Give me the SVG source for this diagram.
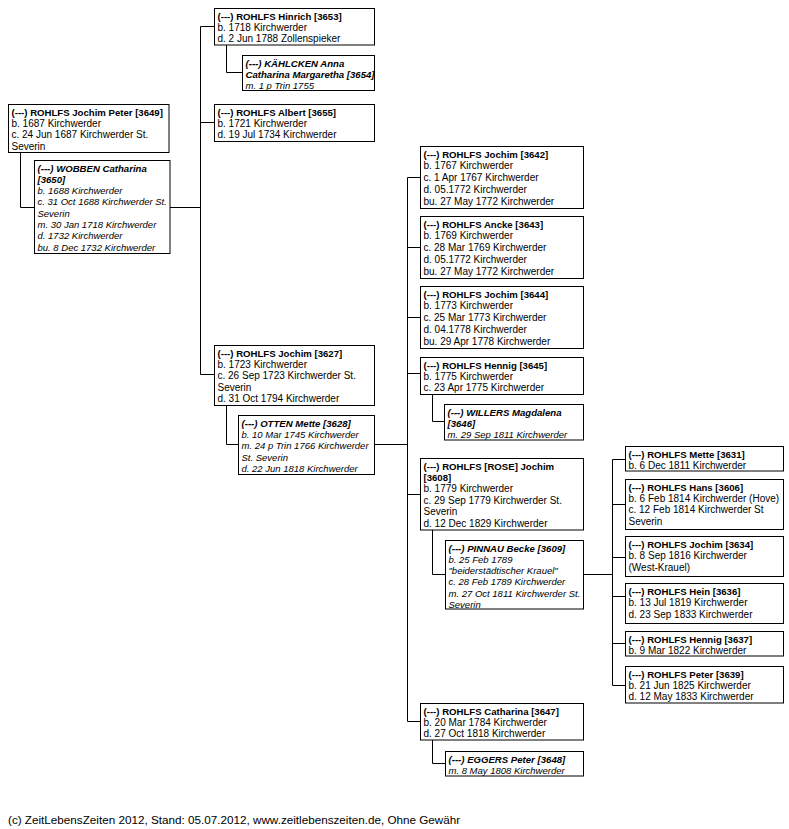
<svg xmlns="http://www.w3.org/2000/svg" width="789" height="829" viewBox="0 0 789 829">
<style>
.bx{fill:#fff;stroke:#000;stroke-width:1}
.con{fill:none;stroke:#000;stroke-width:1}
text{font-family:"Liberation Sans",Arial,sans-serif;font-size:10px;fill:#000}
.b{font-weight:bold;font-size:9.6px}
.i{font-style:italic;font-size:9.5px}
.ft{font-size:11.7px}
</style>
<rect width="789" height="829" fill="#fff"/>
<g id="connectors">
<path class="con" d="M200.5 26.5V374.5M200.5 26.5H214.5M200.5 122.5H214.5M200.5 374.5H214.5M170 207.5H200.5"/>
<path class="con" d="M20.5 152.5V207.5H34.5"/>
<path class="con" d="M226.5 45V72.5H242.5"/>
<path class="con" d="M226.5 405.5V444.5H238.5M374.5 444.5H407.5"/>
<path class="con" d="M407.5 177.5V721.5M407.5 177.5H420.5M407.5 247.5H420.5M407.5 317.5H420.5M407.5 373.5H420.5M407.5 494.5H420.5M407.5 721.5H420.5"/>
<path class="con" d="M432.5 394.5V421.5H444.5"/>
<path class="con" d="M432.5 530V574.5H445.5M583.5 574.5H612.5"/>
<path class="con" d="M432.5 740V763.5H445.5"/>
<path class="con" d="M612.5 459.5V685.5M612.5 459.5H625.5M612.5 504.5H625.5M612.5 557.5H625.5M612.5 596.5H625.5M612.5 643.5H625.5M612.5 685.5H625.5"/>
</g>
<g id="n3653"><rect class="bx" x="214.5" y="8.5" width="160" height="36.5"/>
<text x="217.5" y="19.5"><tspan class="b">(---) ROHLFS Hinrich [3653]</tspan><tspan x="217.5" dy="11.4">b. 1718 Kirchwerder</tspan><tspan x="217.5" dy="11.4">d. 2 Jun 1788 Zollenspieker</tspan></text></g>
<g id="n3654"><rect class="bx" x="242.5" y="55.5" width="132" height="35"/>
<text x="245.5" y="66.5" class="i"><tspan class="b">(---) KÄHLCKEN Anna</tspan><tspan x="245.5" dy="11.4" class="b">Catharina Margaretha [3654]</tspan><tspan x="245.5" dy="11.4">m. 1 p Trin 1755</tspan></text></g>
<g id="n3649"><rect class="bx" x="8.5" y="104.5" width="160.5" height="48"/>
<text x="11.5" y="115.5"><tspan class="b">(---) ROHLFS Jochim Peter [3649]</tspan><tspan x="11.5" dy="11.4">b. 1687 Kirchwerder</tspan><tspan x="11.5" dy="11.4">c. 24 Jun 1687 Kirchwerder St.</tspan><tspan x="11.5" dy="11.4">Severin</tspan></text></g>
<g id="n3655"><rect class="bx" x="214.5" y="104.5" width="160" height="37"/>
<text x="217.5" y="115.5"><tspan class="b">(---) ROHLFS Albert [3655]</tspan><tspan x="217.5" dy="11.4">b. 1721 Kirchwerder</tspan><tspan x="217.5" dy="11.4">d. 19 Jul 1734 Kirchwerder</tspan></text></g>
<g id="n3650"><rect class="bx" x="34.5" y="160.5" width="135.5" height="93"/>
<text x="37.5" y="171.5" class="i"><tspan class="b">(---) WOBBEN Catharina</tspan><tspan x="37.5" dy="11.3" class="b">[3650]</tspan><tspan x="37.5" dy="11.3">b. 1688 Kirchwerder</tspan><tspan x="37.5" dy="11.3">c. 31 Oct 1688 Kirchwerder St.</tspan><tspan x="37.5" dy="11.3">Severin</tspan><tspan x="37.5" dy="11.3">m. 30 Jan 1718 Kirchwerder</tspan><tspan x="37.5" dy="11.3">d. 1732 Kirchwerder</tspan><tspan x="37.5" dy="11.3">bu. 8 Dec 1732 Kirchwerder</tspan></text></g>
<g id="n3627"><rect class="bx" x="214.5" y="345.5" width="160" height="60"/>
<text x="217.5" y="356.5"><tspan class="b">(---) ROHLFS Jochim [3627]</tspan><tspan x="217.5" dy="11.4">b. 1723 Kirchwerder</tspan><tspan x="217.5" dy="11.4">c. 26 Sep 1723 Kirchwerder St.</tspan><tspan x="217.5" dy="11.4">Severin</tspan><tspan x="217.5" dy="11.4">d. 31 Oct 1794 Kirchwerder</tspan></text></g>
<g id="n3628"><rect class="bx" x="238.5" y="415.5" width="136" height="59"/>
<text x="241.5" y="426.5" class="i"><tspan class="b">(---) OTTEN Mette [3628]</tspan><tspan x="241.5" dy="11.4">b. 10 Mar 1745 Kirchwerder</tspan><tspan x="241.5" dy="11.4">m. 24 p Trin 1766 Kirchwerder</tspan><tspan x="241.5" dy="11.4">St. Severin</tspan><tspan x="241.5" dy="11.4">d. 22 Jun 1818 Kirchwerder</tspan></text></g>
<g id="n3642"><rect class="bx" x="420.5" y="146.5" width="163" height="62"/>
<text x="423.5" y="157.5"><tspan class="b">(---) ROHLFS Jochim [3642]</tspan><tspan x="423.5" dy="11.75">b. 1767 Kirchwerder</tspan><tspan x="423.5" dy="11.75">c. 1 Apr 1767 Kirchwerder</tspan><tspan x="423.5" dy="11.75">d. 05.1772 Kirchwerder</tspan><tspan x="423.5" dy="11.75">bu. 27 May 1772 Kirchwerder</tspan></text></g>
<g id="n3643"><rect class="bx" x="420.5" y="216.5" width="163" height="62"/>
<text x="423.5" y="227.5"><tspan class="b">(---) ROHLFS Ancke [3643]</tspan><tspan x="423.5" dy="11.75">b. 1769 Kirchwerder</tspan><tspan x="423.5" dy="11.75">c. 28 Mar 1769 Kirchwerder</tspan><tspan x="423.5" dy="11.75">d. 05.1772 Kirchwerder</tspan><tspan x="423.5" dy="11.75">bu. 27 May 1772 Kirchwerder</tspan></text></g>
<g id="n3644"><rect class="bx" x="420.5" y="286.5" width="163" height="62"/>
<text x="423.5" y="297.5"><tspan class="b">(---) ROHLFS Jochim [3644]</tspan><tspan x="423.5" dy="11.75">b. 1773 Kirchwerder</tspan><tspan x="423.5" dy="11.75">c. 25 Mar 1773 Kirchwerder</tspan><tspan x="423.5" dy="11.75">d. 04.1778 Kirchwerder</tspan><tspan x="423.5" dy="11.75">bu. 29 Apr 1778 Kirchwerder</tspan></text></g>
<g id="n3645"><rect class="bx" x="420.5" y="357.5" width="163" height="37"/>
<text x="423.5" y="368.5"><tspan class="b">(---) ROHLFS Hennig [3645]</tspan><tspan x="423.5" dy="11.4">b. 1775 Kirchwerder</tspan><tspan x="423.5" dy="11.4">c. 23 Apr 1775 Kirchwerder</tspan></text></g>
<g id="n3646"><rect class="bx" x="444.5" y="404.5" width="139" height="35.5"/>
<text x="447.5" y="415.5" class="i"><tspan class="b">(---) WILLERS Magdalena</tspan><tspan x="447.5" dy="11.4" class="b">[3646]</tspan><tspan x="447.5" dy="11.4">m. 29 Sep 1811 Kirchwerder</tspan></text></g>
<g id="n3608"><rect class="bx" x="420.5" y="458.5" width="163" height="71.5"/>
<text x="423.5" y="469.5"><tspan class="b">(---) ROHLFS [ROSE] Jochim</tspan><tspan x="423.5" dy="11.4" class="b">[3608]</tspan><tspan x="423.5" dy="11.4">b. 1779 Kirchwerder</tspan><tspan x="423.5" dy="11.4">c. 29 Sep 1779 Kirchwerder St.</tspan><tspan x="423.5" dy="11.4">Severin</tspan><tspan x="423.5" dy="11.4">d. 12 Dec 1829 Kirchwerder</tspan></text></g>
<g id="n3609"><rect class="bx" x="445.5" y="540.5" width="138" height="68.5"/>
<text x="448.5" y="551.5" class="i"><tspan class="b">(---) PINNAU Becke [3609]</tspan><tspan x="448.5" dy="11.3">b. 25 Feb 1789</tspan><tspan x="448.5" dy="11.3">"beiderstädtischer Krauel"</tspan><tspan x="448.5" dy="11.3">c. 28 Feb 1789 Kirchwerder</tspan><tspan x="448.5" dy="11.3">m. 27 Oct 1811 Kirchwerder St.</tspan><tspan x="448.5" dy="11.3">Severin</tspan></text></g>
<g id="n3647"><rect class="bx" x="420.5" y="703.5" width="163" height="36.5"/>
<text x="423.5" y="714.5"><tspan class="b">(---) ROHLFS Catharina [3647]</tspan><tspan x="423.5" dy="11.4">b. 20 Mar 1784 Kirchwerder</tspan><tspan x="423.5" dy="11.4">d. 27 Oct 1818 Kirchwerder</tspan></text></g>
<g id="n3648"><rect class="bx" x="445.5" y="751.5" width="138" height="24.5"/>
<text x="448.5" y="762.5" class="i"><tspan class="b">(---) EGGERS Peter [3648]</tspan><tspan x="448.5" dy="11">m. 8 May 1808 Kirchwerder</tspan></text></g>
<g id="n3631"><rect class="bx" x="625.5" y="446.5" width="158" height="24.5"/>
<text x="628.5" y="457.5"><tspan class="b">(---) ROHLFS Mette [3631]</tspan><tspan x="628.5" dy="11">b. 6 Dec 1811 Kirchwerder</tspan></text></g>
<g id="n3606"><rect class="bx" x="625.5" y="479.5" width="158" height="50"/>
<text x="628.5" y="490.5"><tspan class="b">(---) ROHLFS Hans [3606]</tspan><tspan x="628.5" dy="11.4">b. 6 Feb 1814 Kirchwerder (Hove)</tspan><tspan x="628.5" dy="11.4">c. 12 Feb 1814 Kirchwerder St</tspan><tspan x="628.5" dy="11.4">Severin</tspan></text></g>
<g id="n3634"><rect class="bx" x="625.5" y="536.5" width="158" height="40"/>
<text x="628.5" y="547.5"><tspan class="b">(---) ROHLFS Jochim [3634]</tspan><tspan x="628.5" dy="11.5">b. 8 Sep 1816 Kirchwerder</tspan><tspan x="628.5" dy="11.5">(West-Krauel)</tspan></text></g>
<g id="n3636"><rect class="bx" x="625.5" y="583.5" width="158" height="40"/>
<text x="628.5" y="594.5"><tspan class="b">(---) ROHLFS Hein [3636]</tspan><tspan x="628.5" dy="11.5">b. 13 Jul 1819 Kirchwerder</tspan><tspan x="628.5" dy="11.5">d. 23 Sep 1833 Kirchwerder</tspan></text></g>
<g id="n3637"><rect class="bx" x="625.5" y="631.5" width="158" height="24.5"/>
<text x="628.5" y="642.5"><tspan class="b">(---) ROHLFS Hennig [3637]</tspan><tspan x="628.5" dy="11">b. 9 Mar 1822 Kirchwerder</tspan></text></g>
<g id="n3639"><rect class="bx" x="625.5" y="666.5" width="158" height="36.5"/>
<text x="628.5" y="677.5"><tspan class="b">(---) ROHLFS Peter [3639]</tspan><tspan x="628.5" dy="11.4">b. 21 Jun 1825 Kirchwerder</tspan><tspan x="628.5" dy="11.4">d. 12 May 1833 Kirchwerder</tspan></text></g>
<text class="ft" x="8" y="824">(c) ZeitLebensZeiten 2012, Stand: 05.07.2012, www.zeitlebenszeiten.de, Ohne Gewähr</text>
</svg>
